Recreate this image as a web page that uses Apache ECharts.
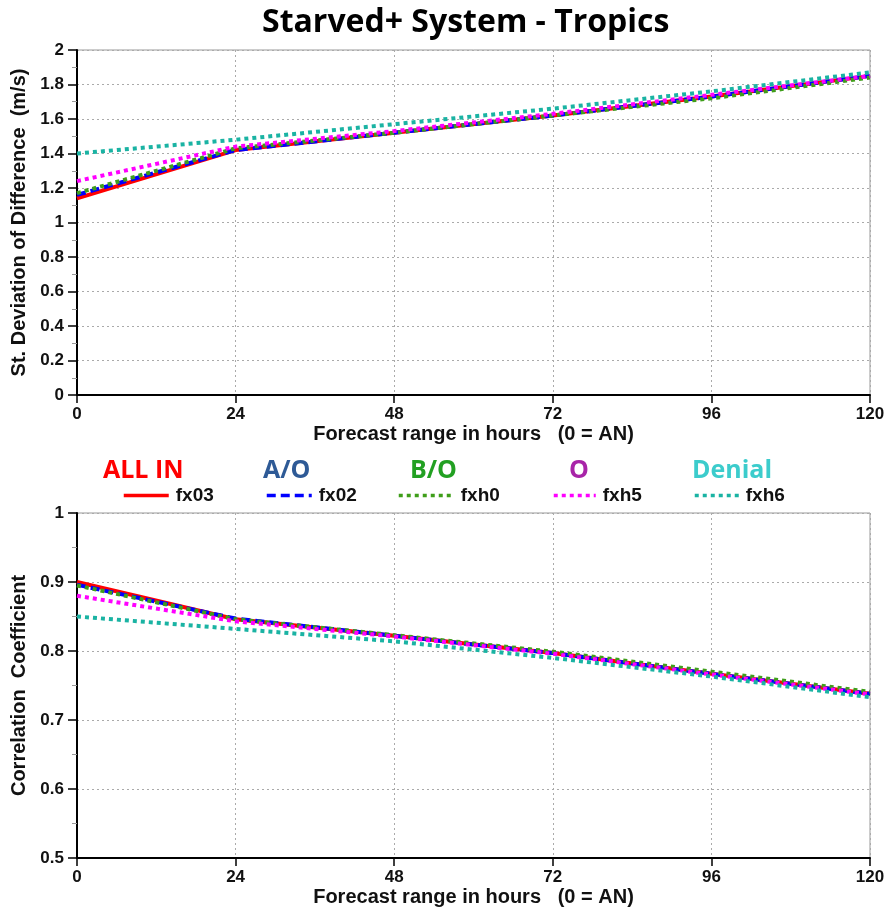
<!DOCTYPE html>
<html><head><meta charset="utf-8">
<script src="https://cdn.jsdelivr.net/npm/echarts@6/dist/echarts.min.js"></script>
<style>html,body{margin:0;padding:0;background:#fff}#c{width:889px;height:910px}</style>
</head><body><div id="c"></div>
<script>
const hours = [0, 24, 48, 72, 96, 120];
const seriesNames = ['fx03', 'fx02', 'fxh0', 'fxh5', 'fxh6'];
const groupNames = ['ALL IN', 'A/O', 'B/O', 'O', 'Denial'];
// St. Deviation of Difference (m/s)
const sd_fx03 = [1.14, 1.42, 1.52, 1.62, 1.73, 1.85];
const sd_fx02 = [1.16, 1.42, 1.52, 1.62, 1.73, 1.85];
const sd_fxh0 = [1.17, 1.43, 1.52, 1.62, 1.72, 1.84];
const sd_fxh5 = [1.24, 1.44, 1.53, 1.63, 1.74, 1.85];
const sd_fxh6 = [1.40, 1.48, 1.57, 1.66, 1.76, 1.87];
// Correlation Coefficient
const cc_fx03 = [0.900, 0.846, 0.822, 0.797, 0.767, 0.738];
const cc_fx02 = [0.896, 0.847, 0.822, 0.797, 0.767, 0.738];
const cc_fxh0 = [0.895, 0.846, 0.823, 0.799, 0.770, 0.741];
const cc_fxh5 = [0.880, 0.843, 0.821, 0.796, 0.766, 0.737];
const cc_fxh6 = [0.850, 0.832, 0.814, 0.790, 0.763, 0.733];

const sdData = [sd_fx03, sd_fx02, sd_fxh0, sd_fxh5, sd_fxh6];
const ccData = [cc_fx03, cc_fx02, cc_fxh0, cc_fxh5, cc_fxh6];
const lineColors = ['#ff0000', '#0000ff', '#3f9e1a', '#ff00ff', '#1ab3a3'];
const lineTypes = ['solid', [9, 5], [4, 4], [4, 4], [4, 4]];
const lineWidths = [4, 4, 4, 4, 4];
const groupColors = ['#ff0000', '#2e5a96', '#22a022', '#a824a8', '#3ccccc'];

const headerLeft = [103, 263, 410, 569, 692];
const legendLeft = [122, 265, 397, 552, 693];
const legendIconW = [45, 45, 55, 42, 44];

const numFont = {fontFamily: 'Liberation Sans', fontWeight: 'bold', fontSize: 17, color: '#111'};
const nameFont = {fontFamily: 'Liberation Sans', fontWeight: 'bold', fontSize: 20, color: '#111'};

function xAxis(gi) {
  return {
    type: 'value', gridIndex: gi, min: 0, max: 120, interval: 24,
    name: 'Forecast range in hours   (0 = AN)', nameLocation: 'middle', nameGap: 29,
    nameTextStyle: nameFont,
    axisLine: {show: true, onZero: false, lineStyle: {color: '#000', width: 2}},
    axisTick: {show: true, inside: false, length: 8, lineStyle: {color: '#000', width: 1.5}},
    axisLabel: Object.assign({margin: 11}, numFont),
    splitLine: {show: true, lineStyle: {color: '#aaa', type: [2, 3], width: 1}}
  };
}
function yAxis(gi, min, max, interval, name) {
  return {
    type: 'value', gridIndex: gi, min: min, max: max, interval: interval,
    name: name, nameLocation: 'middle', nameGap: 45,
    nameTextStyle: nameFont,
    axisLine: {show: true, onZero: false, lineStyle: {color: '#000', width: 2}},
    axisTick: {show: true, inside: false, length: 9, lineStyle: {color: '#000', width: 1.5}},
    minorTick: {show: true, splitNumber: 2, length: 5, lineStyle: {color: '#999', width: 1}},
    axisLabel: Object.assign({margin: 13}, numFont),
    splitLine: {show: true, lineStyle: {color: '#aaa', type: [2, 3], width: 1}}
  };
}

const titles = [{
  text: 'Starved+ System - Tropics', left: 262, top: 7, padding: 0,
  textStyle: {fontFamily: 'Open Sans', fontWeight: 'bold', fontSize: 32, color: '#000'}
}];
groupNames.forEach((g, i) => titles.push({
  text: g, left: headerLeft[i], top: 458, padding: 0,
  textStyle: {fontFamily: 'Open Sans', fontWeight: 'bold', fontSize: 25, color: groupColors[i]}
}));

const legends = seriesNames.map((n, i) => ({
  data: [n], left: legendLeft[i], top: 486, padding: 0,
  itemWidth: legendIconW[i], itemHeight: 14, itemGap: 0,
  itemStyle: {opacity: 0},
  lineStyle: {width: 3.5},
  textStyle: {fontFamily: 'Liberation Sans', fontWeight: 'bold', fontSize: 19, color: '#111', padding: [0, 0, 0, 2]},
  selectedMode: false
}));

const series = [];
seriesNames.forEach((n, i) => {
  [sdData[i], ccData[i]].forEach((arr, gi) => {
    series.push({
      name: n, type: 'line', xAxisIndex: gi, yAxisIndex: gi,
      data: hours.map((h, k) => [h, arr[k]]),
      symbol: 'none', animation: false,
      lineStyle: {color: lineColors[i], type: lineTypes[i], width: lineWidths[i]},
      itemStyle: {color: lineColors[i]}
    });
  });
});

const chart = echarts.init(document.getElementById('c'));
chart.setOption({
  backgroundColor: '#fff',
  animation: false,
  title: titles,
  legend: legends,
  grid: [
    {left: 77, right: 19, top: 50, height: 345, show: true, borderColor: '#999', borderWidth: 1},
    {left: 77, right: 19, top: 513, height: 345, show: true, borderColor: '#999', borderWidth: 1}
  ],
  xAxis: [xAxis(0), xAxis(1)],
  yAxis: [
    yAxis(0, 0, 2, 0.2, 'St. Deviation of Difference  (m/s)'),
    yAxis(1, 0.5, 1, 0.1, 'Correlation  Coefficient')
  ],
  series: series
});
</script></body></html>
